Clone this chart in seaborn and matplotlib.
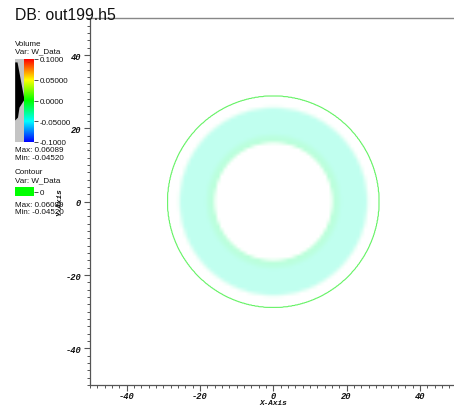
import numpy as np
import matplotlib
matplotlib.use("Agg")
import matplotlib.pyplot as plt
import seaborn as sns
from matplotlib.colors import LinearSegmentedColormap, Normalize
from matplotlib.ticker import MultipleLocator

# ---------------- data ----------------
db_title = "DB: out199.h5"
axis_range = [-50, 50]
major_ticks = [-40, -20, 0, 20, 40]
minor_step = 2

# radial profile of W_Data (radius in axis units)
profile_r = [0.0, 15.8, 16.6, 17.6, 19.0, 25.2, 26.4, 28.8, 50.0]
profile_w = [-0.020, -0.020, -0.024, -0.026, -0.038, -0.038, -0.032, 0.0, 0.020]
ring_opacity = [0.0, 0.0, 0.27, 0.27, 0.25, 0.25, 0.0, 0.0, 0.0]

contour_level = [0.0]

# volume legend
cbar_ticks = [0.1, 0.05, 0.0, -0.05, -0.1]
cbar_labels = ["0.1000", "0.05000", "0.0000", "-0.05000", "-0.1000"]
hot_colors = ["#0000ff", "#00ffff", "#00ff00", "#ffff00", "#ff0000"]
opac_values = [0.1, 0.093, 0.093, 0.003, -0.016, -0.040, -0.047, -0.1]
opac_levels = [0.0, 0.0, 0.25, 1.0, 0.46, 0.30, 0.0, 0.0]
vol_max, vol_min = "0.06089", "-0.04520"
con_max, con_min = "0.06089", "-0.04520"

# ---------------- style ----------------
sns.set_theme(style="ticks")
plt.rcParams["font.family"] = ["Liberation Sans", "DejaVu Sans"]

W, H = 454, 410
fig = plt.figure(figsize=(W / 100, H / 100), dpi=100)
fig.patch.set_facecolor("white")

def fx(x):
    return x / W

def fy(y):
    return 1 - y / H

# main axes: x=-50 at px 90, x=50 at px 456.6 ; y=50 at px 19.4, y=-50 at px 386
ax = fig.add_axes([fx(90), fy(386), 366.6 / W, 366.6 / H])
ax.set_facecolor("white")

hot = LinearSegmentedColormap.from_list("visit_hot", hot_colors)
norm = Normalize(-0.1, 0.1)

# volume field
n = 110
c = np.linspace(axis_range[0], axis_range[1], n)
X, Y = np.meshgrid(c, c)
R = np.hypot(X, Y)
Wv = np.interp(R, profile_r, profile_w)
A = np.interp(R, profile_r, ring_opacity)
rgba = hot(norm(Wv))
rgba[..., 3] = A
ax.imshow(rgba, extent=[-50, 50, -50, 50], origin="lower",
          interpolation="bilinear", aspect="auto", zorder=1)

# contour of W_Data
cf = np.linspace(axis_range[0], axis_range[1], 601)
Xf, Yf = np.meshgrid(cf, cf)
Wf = np.interp(np.hypot(Xf, Yf), profile_r, profile_w)
ax.contour(Xf, Yf, Wf, levels=contour_level, colors=["#33ee33"],
           linewidths=0.8, alpha=0.75, zorder=2)

ax.set_xlim(axis_range)
ax.set_ylim(axis_range)
ax.set_xticks(major_ticks)
ax.set_yticks(major_ticks)
tick_font = dict(family="Liberation Mono", weight="bold", style="italic", size=6.3)
ax.set_xticklabels([str(t) for t in major_ticks], fontdict=tick_font)
ax.set_yticklabels([str(t) for t in major_ticks], fontdict=tick_font)
ax.xaxis.set_minor_locator(MultipleLocator(minor_step))
ax.yaxis.set_minor_locator(MultipleLocator(minor_step))
ax.tick_params(which="major", direction="out", length=4, width=0.8,
               color="#555555", labelcolor="#111111")
ax.tick_params(axis="x", which="major", pad=0.3)
ax.tick_params(axis="y", which="major", pad=2.5)
ax.tick_params(which="minor", direction="out", length=2.2, width=0.7, color="#555555")
for s in ["left", "bottom"]:
    ax.spines[s].set_color("#555555")
    ax.spines[s].set_linewidth(0.9)
ax.spines["top"].set_color("#888888")
ax.spines["top"].set_linewidth(1.0)
ax.spines["right"].set_visible(False)

lab_font = dict(family="Liberation Mono", weight="bold", style="italic", size=5.6, color="#111111")
fig.text(fx(273), fy(403.5), "X-Axis", ha="center", va="center", **lab_font)
fig.text(fx(60), fy(202), "Y-Axis", ha="center", va="center", rotation=90, **lab_font)

# title
fig.text(fx(15), fy(20.5), db_title, ha="left", va="baseline", fontsize=11.3,
         color="#111111", family="Liberation Sans")

leg = dict(fontsize=5.8, color="#111111", ha="left", va="center", family="Liberation Sans")
fig.text(fx(15), fy(45), "Volume", **leg)
fig.text(fx(15), fy(52), "Var: W_Data", **leg)

# opacity panel
oax = fig.add_axes([fx(14.7), fy(143), 9.3 / W, 83 / H])
oax.set_facecolor("#c4c4c4")
oax.fill_betweenx(opac_values, 0, opac_levels, color="black", lw=0)
oax.set_xlim(0, 1)
oax.set_ylim(-0.1, 0.1)
oax.set_xticks([])
oax.set_yticks([])
for s in oax.spines.values():
    s.set_visible(False)

# colour bar
cax = fig.add_axes([fx(24), fy(143), 10 / W, 83 / H])
grad = np.linspace(-0.1, 0.1, 256).reshape(-1, 1)
cax.imshow(grad, cmap=hot, norm=norm, aspect="auto", origin="lower",
           extent=[0, 1, -0.1, 0.1])
cax.set_xlim(0, 1)
cax.set_ylim(-0.1, 0.1)
cax.set_xticks([])
cax.yaxis.tick_right()
cax.set_yticks(cbar_ticks)
cax.set_yticklabels(cbar_labels, fontsize=5.8, color="#111111")
cax.tick_params(axis="y", direction="out", length=3, width=0.6, color="#333333", pad=0.8)
for s in cax.spines.values():
    s.set_visible(False)

fig.text(fx(15), fy(151), "Max: " + vol_max, **leg)
fig.text(fx(15), fy(158.5), "Min: " + vol_min, **leg)

fig.text(fx(15), fy(173), "Contour", **leg)
fig.text(fx(15), fy(180.5), "Var: W_Data", **leg)

gax = fig.add_axes([fx(15), fy(197), 19 / W, 9 / H])
gax.set_facecolor("#00ff00")
gax.set_xlim(0, 1)
gax.set_ylim(-1, 1)
gax.set_xticks([])
gax.yaxis.tick_right()
gax.set_yticks(contour_level)
gax.set_yticklabels(["0"], fontsize=5.8, color="#111111")
gax.tick_params(axis="y", direction="out", length=3, width=0.6, color="#333333", pad=0.8)
for s in gax.spines.values():
    s.set_visible(False)

fig.text(fx(15), fy(206), "Max: " + con_max, **leg)
fig.text(fx(15), fy(213), "Min: " + con_min, **leg)

fig.savefig("out.png", dpi=100, facecolor="white")
